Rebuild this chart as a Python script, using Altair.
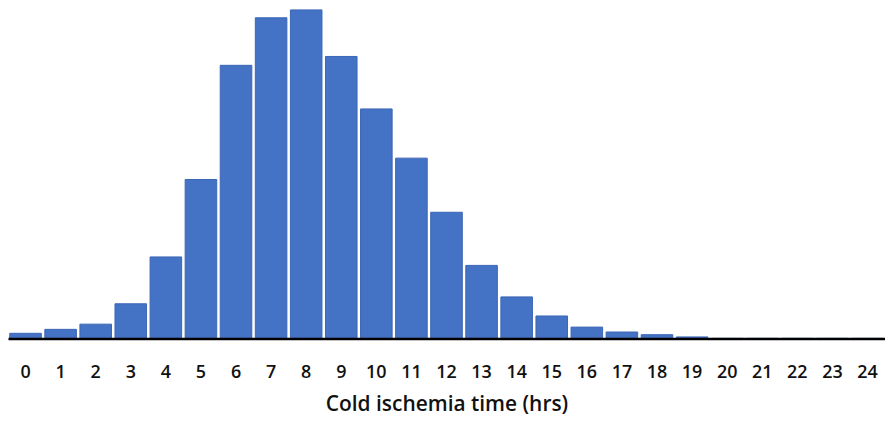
import altair as alt
import pandas as pd

hours = [str(i) for i in range(25)]
counts = [5.2, 9.2, 14.5, 35.2, 82.8, 161.5, 277.5, 325.8, 333.8, 286.5,
          233.2, 183.2, 128.2, 74.2, 42.2, 22.8, 11.5, 6.5, 3.8, 1.5,
          0, 0, 0, 0, 0]

df = pd.DataFrame({"hour": hours, "count": counts})

chart = alt.Chart(df).mark_bar(
    color="#4472C4", stroke="#3B66B5", strokeWidth=1
).encode(
    x=alt.X("hour:O", sort=hours,
            scale=alt.Scale(paddingInner=0.1, paddingOuter=0.05),
            axis=alt.Axis(title="Cold ischemia time (hrs)", labelAngle=0,
                          ticks=False, domainColor="#000000", domainWidth=2.5,
                          zindex=1,
                          labelFont="Open Sans", labelFontSize=18, labelFontWeight=600,
                          labelColor="#111111", labelPadding=25,
                          titleFont="Open Sans", titleFontSize=21, titleFontWeight=600,
                          titleColor="#111111", titlePadding=12)),
    y=alt.Y("count:Q", scale=alt.Scale(domain=[0, 333.8], nice=False), axis=None),
).properties(
    width=881, height=330, padding={"left": 0, "right": 0, "top": 0, "bottom": 0}
).configure_view(stroke=None)

chart.save("out.html", embed_options={"renderer": "svg", "actions": False})
